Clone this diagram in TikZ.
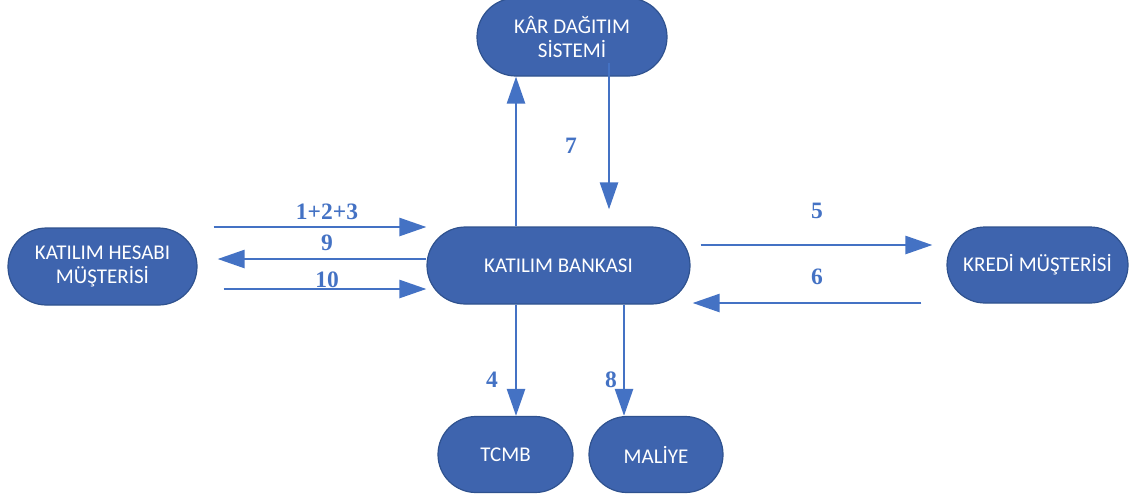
\documentclass[tikz,border=0pt]{standalone}
\usepackage{fontspec}
\setmainfont{Carlito}
\newfontfamily\labelfont{Liberation Serif}
\usetikzlibrary{shapes.misc,arrows.meta}
\definecolor{boxfill}{RGB}{62,100,174}
\definecolor{boxline}{RGB}{47,82,143}
\definecolor{flow}{RGB}{68,114,196}
\tikzset{
  term/.style={rounded rectangle, draw=boxline, line width=1.2pt, fill=boxfill,
    text=white, inner sep=0pt, align=center,
    font=\fontsize{21}{23.5}\selectfont},
  arr/.style={draw=flow, line width=2.6pt,
    -{Triangle[length=27pt,width=18pt]}, shorten >=0pt},
  num/.style={text=flow, font=\labelfont\bfseries\fontsize{23.5}{26}\selectfont,
    inner sep=0pt}
}
\begin{document}
\begin{tikzpicture}[x=1pt,y=-1pt]
\useasboundingbox (0,0) rectangle (1131,499);

% process boxes
\node[term, minimum width=190pt, minimum height=78pt] (kar) at (572,37) {KÂR DAĞITIM\\SİSTEMİ};
\node[term, minimum width=189pt, minimum height=77pt] (khm) at (102.5,266.5) {KATILIM HESABI\\MÜŞTERİSİ};
\node[term, minimum width=263pt, minimum height=77pt] (bank) at (558.5,265.5) {KATILIM BANKASI};
\node[term, minimum width=181pt, minimum height=76pt] (kredi) at (1037.5,265) {KREDİ MÜŞTERİSİ};
\node[term, minimum width=135pt, minimum height=76pt] (tcmb) at (505.5,454.5) {TCMB};
\node[term, minimum width=134pt, minimum height=76pt] (maliye) at (656,454.5) {MALİYE};

% lanes for the connectors
\coordinate (lA) at (516,0);
\coordinate (lB) at (609,0);
\coordinate (lC) at (624,0);
\coordinate (r1) at (0,227);
\coordinate (r9) at (0,259);
\coordinate (r10) at (0,289);
\coordinate (r5) at (0,245);
\coordinate (r6) at (0,303);

% flows
\draw[arr] (bank.north -| lA) -- (kar.south -| lA);
\draw[arr] ([yshift=14pt]kar.south -| lB) -- ([yshift=17pt]bank.north -| lB);
\draw[arr] (bank.south -| lA) -- (tcmb.north -| lA);
\draw[arr] (bank.south -| lC) -- (maliye.north -| lC);
\draw[arr] ([xshift=16pt]khm.east |- r1) -- (bank.west |- r1);
\draw[arr] (bank.west |- r9) -- ([xshift=20pt]khm.east |- r9);
\draw[arr] ([xshift=26pt]khm.east |- r10) -- (bank.west |- r10);
\draw[arr] ([xshift=10pt]bank.east |- r5) -- ([xshift=-14pt]kredi.west |- r5);
\draw[arr] ([xshift=-25pt]kredi.west |- r6) -- ([xshift=2pt]bank.east |- r6);

% flow numbers
\node[num] (n123) at (327,212) {1+2+3};
\node[num] (n9) at (327,243) {9};
\node[num] (n10) at (327,280) {10};
\node[num] (n5) at (817,211) {5};
\node[num] (n6) at (817,277) {6};
\node[num] (n7) at (571,146) {7};
\node[num] (n4) at (492,380) {4};
\node[num] (n8) at (611,380) {8};
\end{tikzpicture}
\end{document}
